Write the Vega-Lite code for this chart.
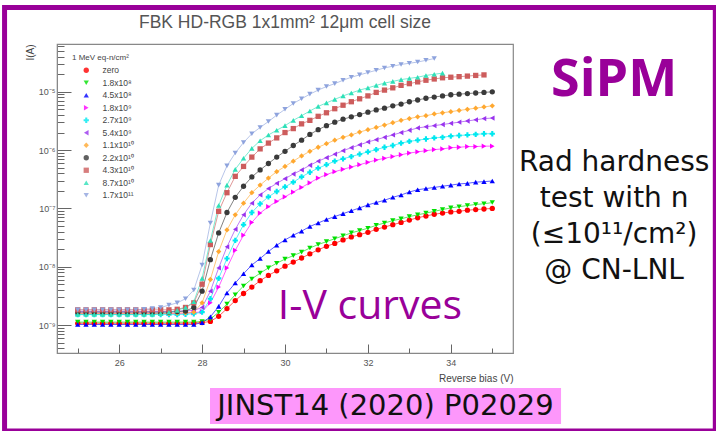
{
  "$schema": "https://vega.github.io/schema/vega-lite/v6.json",
  "width": 456,
  "height": 309,
  "autosize": {"type": "none"},
  "padding": {"left": 57, "top": 44, "right": 203, "bottom": 78},
  "background": "white",
  "config": {
    "view": {"stroke": "#888888", "strokeWidth": 1.2},
    "axis": {"grid": false, "domainColor": "#888888", "tickColor": "#666666", "labelFont": "Liberation Sans", "labelFontSize": 9, "labelColor": "#555555", "titleFont": "Liberation Sans", "titleFontWeight": "normal", "titleColor": "#444444", "titleFontSize": 10, "labelOverlap": false, "labelFlush": false}
  },
  "data": {"values": [
{"series":"zero","V":25,"I":1.07e-9},{"series":"zero","V":25.2,"I":1.07e-9},{"series":"zero","V":25.4,"I":1.07e-9},{"series":"zero","V":25.6,"I":1.07e-9},{"series":"zero","V":25.8,"I":1.07e-9},{"series":"zero","V":26,"I":1.07e-9},{"series":"zero","V":26.2,"I":1.07e-9},{"series":"zero","V":26.4,"I":1.07e-9},{"series":"zero","V":26.6,"I":1.07e-9},{"series":"zero","V":26.8,"I":1.07e-9},{"series":"zero","V":27,"I":1.07e-9},{"series":"zero","V":27.2,"I":1.07e-9},{"series":"zero","V":27.4,"I":1.07e-9},{"series":"zero","V":27.6,"I":1.07e-9},{"series":"zero","V":27.8,"I":1.08e-9},{"series":"zero","V":28,"I":1.10e-9},{"series":"zero","V":28.2,"I":1.15e-9},{"series":"zero","V":28.4,"I":1.41e-9},{"series":"zero","V":28.6,"I":1.91e-9},{"series":"zero","V":28.8,"I":2.63e-9},{"series":"zero","V":29,"I":3.47e-9},{"series":"zero","V":29.2,"I":4.47e-9},{"series":"zero","V":29.4,"I":5.75e-9},{"series":"zero","V":29.6,"I":7.08e-9},{"series":"zero","V":29.8,"I":8.51e-9},{"series":"zero","V":30,"I":1.02e-8},{"series":"zero","V":30.2,"I":1.20e-8},{"series":"zero","V":30.4,"I":1.41e-8},{"series":"zero","V":30.6,"I":1.66e-8},{"series":"zero","V":30.8,"I":1.95e-8},{"series":"zero","V":31,"I":2.24e-8},{"series":"zero","V":31.2,"I":2.51e-8},{"series":"zero","V":31.4,"I":2.88e-8},{"series":"zero","V":31.6,"I":3.24e-8},{"series":"zero","V":31.8,"I":3.55e-8},{"series":"zero","V":32,"I":3.89e-8},{"series":"zero","V":32.2,"I":4.37e-8},{"series":"zero","V":32.4,"I":4.79e-8},{"series":"zero","V":32.6,"I":5.25e-8},{"series":"zero","V":32.8,"I":5.75e-8},{"series":"zero","V":33,"I":6.31e-8},{"series":"zero","V":33.2,"I":6.92e-8},{"series":"zero","V":33.4,"I":7.41e-8},{"series":"zero","V":33.6,"I":7.94e-8},{"series":"zero","V":33.8,"I":8.32e-8},{"series":"zero","V":34,"I":8.71e-8},{"series":"zero","V":34.2,"I":8.91e-8},{"series":"zero","V":34.4,"I":9.33e-8},{"series":"zero","V":34.6,"I":9.55e-8},{"series":"zero","V":34.8,"I":9.77e-8},{"series":"zero","V":35,"I":1.00e-7},
{"series":"1.8x10⁸","V":25,"I":1.12e-9},{"series":"1.8x10⁸","V":25.2,"I":1.12e-9},{"series":"1.8x10⁸","V":25.4,"I":1.12e-9},{"series":"1.8x10⁸","V":25.6,"I":1.12e-9},{"series":"1.8x10⁸","V":25.8,"I":1.12e-9},{"series":"1.8x10⁸","V":26,"I":1.12e-9},{"series":"1.8x10⁸","V":26.2,"I":1.12e-9},{"series":"1.8x10⁸","V":26.4,"I":1.12e-9},{"series":"1.8x10⁸","V":26.6,"I":1.12e-9},{"series":"1.8x10⁸","V":26.8,"I":1.12e-9},{"series":"1.8x10⁸","V":27,"I":1.12e-9},{"series":"1.8x10⁸","V":27.2,"I":1.12e-9},{"series":"1.8x10⁸","V":27.4,"I":1.12e-9},{"series":"1.8x10⁸","V":27.6,"I":1.12e-9},{"series":"1.8x10⁸","V":27.8,"I":1.12e-9},{"series":"1.8x10⁸","V":28,"I":1.15e-9},{"series":"1.8x10⁸","V":28.2,"I":1.26e-9},{"series":"1.8x10⁸","V":28.4,"I":1.66e-9},{"series":"1.8x10⁸","V":28.6,"I":2.29e-9},{"series":"1.8x10⁸","V":28.8,"I":3.31e-9},{"series":"1.8x10⁸","V":29,"I":4.68e-9},{"series":"1.8x10⁸","V":29.2,"I":6.17e-9},{"series":"1.8x10⁸","V":29.4,"I":7.76e-9},{"series":"1.8x10⁸","V":29.6,"I":9.55e-9},{"series":"1.8x10⁸","V":29.8,"I":1.15e-8},{"series":"1.8x10⁸","V":30,"I":1.35e-8},{"series":"1.8x10⁸","V":30.2,"I":1.55e-8},{"series":"1.8x10⁸","V":30.4,"I":1.78e-8},{"series":"1.8x10⁸","V":30.6,"I":2.09e-8},{"series":"1.8x10⁸","V":30.8,"I":2.40e-8},{"series":"1.8x10⁸","V":31,"I":2.69e-8},{"series":"1.8x10⁸","V":31.2,"I":3.02e-8},{"series":"1.8x10⁸","V":31.4,"I":3.39e-8},{"series":"1.8x10⁸","V":31.6,"I":3.80e-8},{"series":"1.8x10⁸","V":31.8,"I":4.17e-8},{"series":"1.8x10⁸","V":32,"I":4.57e-8},{"series":"1.8x10⁸","V":32.2,"I":5.13e-8},{"series":"1.8x10⁸","V":32.4,"I":5.62e-8},{"series":"1.8x10⁸","V":32.6,"I":6.17e-8},{"series":"1.8x10⁸","V":32.8,"I":6.61e-8},{"series":"1.8x10⁸","V":33,"I":7.24e-8},{"series":"1.8x10⁸","V":33.2,"I":7.76e-8},{"series":"1.8x10⁸","V":33.4,"I":8.32e-8},{"series":"1.8x10⁸","V":33.6,"I":8.91e-8},{"series":"1.8x10⁸","V":33.8,"I":9.55e-8},{"series":"1.8x10⁸","V":34,"I":1.02e-7},{"series":"1.8x10⁸","V":34.2,"I":1.07e-7},{"series":"1.8x10⁸","V":34.4,"I":1.12e-7},{"series":"1.8x10⁸","V":34.6,"I":1.17e-7},{"series":"1.8x10⁸","V":34.8,"I":1.20e-7},{"series":"1.8x10⁸","V":35,"I":1.26e-7},
{"series":"4.5x10⁸","V":25,"I":1.02e-9},{"series":"4.5x10⁸","V":25.2,"I":1.02e-9},{"series":"4.5x10⁸","V":25.4,"I":1.02e-9},{"series":"4.5x10⁸","V":25.6,"I":1.02e-9},{"series":"4.5x10⁸","V":25.8,"I":1.02e-9},{"series":"4.5x10⁸","V":26,"I":1.02e-9},{"series":"4.5x10⁸","V":26.2,"I":1.02e-9},{"series":"4.5x10⁸","V":26.4,"I":1.02e-9},{"series":"4.5x10⁸","V":26.6,"I":1.02e-9},{"series":"4.5x10⁸","V":26.8,"I":1.02e-9},{"series":"4.5x10⁸","V":27,"I":1.02e-9},{"series":"4.5x10⁸","V":27.2,"I":1.02e-9},{"series":"4.5x10⁸","V":27.4,"I":1.02e-9},{"series":"4.5x10⁸","V":27.6,"I":1.02e-9},{"series":"4.5x10⁸","V":27.8,"I":1.02e-9},{"series":"4.5x10⁸","V":28,"I":1.10e-9},{"series":"4.5x10⁸","V":28.2,"I":1.38e-9},{"series":"4.5x10⁸","V":28.4,"I":2.09e-9},{"series":"4.5x10⁸","V":28.6,"I":3.55e-9},{"series":"4.5x10⁸","V":28.8,"I":5.25e-9},{"series":"4.5x10⁸","V":29,"I":7.59e-9},{"series":"4.5x10⁸","V":29.2,"I":1.07e-8},{"series":"4.5x10⁸","V":29.4,"I":1.38e-8},{"series":"4.5x10⁸","V":29.6,"I":1.82e-8},{"series":"4.5x10⁸","V":29.8,"I":2.34e-8},{"series":"4.5x10⁸","V":30,"I":2.88e-8},{"series":"4.5x10⁸","V":30.2,"I":3.47e-8},{"series":"4.5x10⁸","V":30.4,"I":4.07e-8},{"series":"4.5x10⁸","V":30.6,"I":4.90e-8},{"series":"4.5x10⁸","V":30.8,"I":5.62e-8},{"series":"4.5x10⁸","V":31,"I":6.46e-8},{"series":"4.5x10⁸","V":31.2,"I":7.24e-8},{"series":"4.5x10⁸","V":31.4,"I":8.13e-8},{"series":"4.5x10⁸","V":31.6,"I":9.12e-8},{"series":"4.5x10⁸","V":31.8,"I":1.02e-7},{"series":"4.5x10⁸","V":32,"I":1.15e-7},{"series":"4.5x10⁸","V":32.2,"I":1.26e-7},{"series":"4.5x10⁸","V":32.4,"I":1.38e-7},{"series":"4.5x10⁸","V":32.6,"I":1.55e-7},{"series":"4.5x10⁸","V":32.8,"I":1.70e-7},{"series":"4.5x10⁸","V":33,"I":1.91e-7},{"series":"4.5x10⁸","V":33.2,"I":2.09e-7},{"series":"4.5x10⁸","V":33.4,"I":2.19e-7},{"series":"4.5x10⁸","V":33.6,"I":2.29e-7},{"series":"4.5x10⁸","V":33.8,"I":2.40e-7},{"series":"4.5x10⁸","V":34,"I":2.51e-7},{"series":"4.5x10⁸","V":34.2,"I":2.63e-7},{"series":"4.5x10⁸","V":34.4,"I":2.69e-7},{"series":"4.5x10⁸","V":34.6,"I":2.82e-7},{"series":"4.5x10⁸","V":34.8,"I":2.88e-7},{"series":"4.5x10⁸","V":35,"I":2.95e-7},
{"series":"1.8x10⁹","V":25,"I":1.58e-9},{"series":"1.8x10⁹","V":25.2,"I":1.58e-9},{"series":"1.8x10⁹","V":25.4,"I":1.58e-9},{"series":"1.8x10⁹","V":25.6,"I":1.58e-9},{"series":"1.8x10⁹","V":25.8,"I":1.58e-9},{"series":"1.8x10⁹","V":26,"I":1.58e-9},{"series":"1.8x10⁹","V":26.2,"I":1.58e-9},{"series":"1.8x10⁹","V":26.4,"I":1.58e-9},{"series":"1.8x10⁹","V":26.6,"I":1.58e-9},{"series":"1.8x10⁹","V":26.8,"I":1.58e-9},{"series":"1.8x10⁹","V":27,"I":1.58e-9},{"series":"1.8x10⁹","V":27.2,"I":1.58e-9},{"series":"1.8x10⁹","V":27.4,"I":1.58e-9},{"series":"1.8x10⁹","V":27.6,"I":1.60e-9},{"series":"1.8x10⁹","V":27.8,"I":1.62e-9},{"series":"1.8x10⁹","V":28,"I":1.70e-9},{"series":"1.8x10⁹","V":28.2,"I":2.40e-9},{"series":"1.8x10⁹","V":28.4,"I":4.47e-9},{"series":"1.8x10⁹","V":28.6,"I":9.55e-9},{"series":"1.8x10⁹","V":28.8,"I":1.91e-8},{"series":"1.8x10⁹","V":29,"I":3.47e-8},{"series":"1.8x10⁹","V":29.2,"I":5.75e-8},{"series":"1.8x10⁹","V":29.4,"I":8.32e-8},{"series":"1.8x10⁹","V":29.6,"I":1.07e-7},{"series":"1.8x10⁹","V":29.8,"I":1.32e-7},{"series":"1.8x10⁹","V":30,"I":1.58e-7},{"series":"1.8x10⁹","V":30.2,"I":1.91e-7},{"series":"1.8x10⁹","V":30.4,"I":2.29e-7},{"series":"1.8x10⁹","V":30.6,"I":2.75e-7},{"series":"1.8x10⁹","V":30.8,"I":3.31e-7},{"series":"1.8x10⁹","V":31,"I":3.80e-7},{"series":"1.8x10⁹","V":31.2,"I":4.27e-7},{"series":"1.8x10⁹","V":31.4,"I":4.68e-7},{"series":"1.8x10⁹","V":31.6,"I":5.13e-7},{"series":"1.8x10⁹","V":31.8,"I":5.62e-7},{"series":"1.8x10⁹","V":32,"I":6.17e-7},{"series":"1.8x10⁹","V":32.2,"I":6.76e-7},{"series":"1.8x10⁹","V":32.4,"I":7.24e-7},{"series":"1.8x10⁹","V":32.6,"I":7.76e-7},{"series":"1.8x10⁹","V":32.8,"I":8.32e-7},{"series":"1.8x10⁹","V":33,"I":8.91e-7},{"series":"1.8x10⁹","V":33.2,"I":9.33e-7},{"series":"1.8x10⁹","V":33.4,"I":9.77e-7},{"series":"1.8x10⁹","V":33.6,"I":1.02e-6},{"series":"1.8x10⁹","V":33.8,"I":1.05e-6},{"series":"1.8x10⁹","V":34,"I":1.10e-6},{"series":"1.8x10⁹","V":34.2,"I":1.12e-6},{"series":"1.8x10⁹","V":34.4,"I":1.15e-6},{"series":"1.8x10⁹","V":34.6,"I":1.15e-6},{"series":"1.8x10⁹","V":34.8,"I":1.17e-6},{"series":"1.8x10⁹","V":35,"I":1.17e-6},
{"series":"2.7x10⁹","V":25,"I":1.51e-9},{"series":"2.7x10⁹","V":25.2,"I":1.51e-9},{"series":"2.7x10⁹","V":25.4,"I":1.51e-9},{"series":"2.7x10⁹","V":25.6,"I":1.51e-9},{"series":"2.7x10⁹","V":25.8,"I":1.51e-9},{"series":"2.7x10⁹","V":26,"I":1.51e-9},{"series":"2.7x10⁹","V":26.2,"I":1.51e-9},{"series":"2.7x10⁹","V":26.4,"I":1.51e-9},{"series":"2.7x10⁹","V":26.6,"I":1.51e-9},{"series":"2.7x10⁹","V":26.8,"I":1.51e-9},{"series":"2.7x10⁹","V":27,"I":1.51e-9},{"series":"2.7x10⁹","V":27.2,"I":1.51e-9},{"series":"2.7x10⁹","V":27.4,"I":1.51e-9},{"series":"2.7x10⁹","V":27.6,"I":1.53e-9},{"series":"2.7x10⁹","V":27.8,"I":1.56e-9},{"series":"2.7x10⁹","V":28,"I":1.66e-9},{"series":"2.7x10⁹","V":28.2,"I":2.82e-9},{"series":"2.7x10⁹","V":28.4,"I":6.31e-9},{"series":"2.7x10⁹","V":28.6,"I":1.38e-8},{"series":"2.7x10⁹","V":28.8,"I":2.82e-8},{"series":"2.7x10⁹","V":29,"I":5.25e-8},{"series":"2.7x10⁹","V":29.2,"I":8.51e-8},{"series":"2.7x10⁹","V":29.4,"I":1.20e-7},{"series":"2.7x10⁹","V":29.6,"I":1.58e-7},{"series":"2.7x10⁹","V":29.8,"I":1.95e-7},{"series":"2.7x10⁹","V":30,"I":2.34e-7},{"series":"2.7x10⁹","V":30.2,"I":2.82e-7},{"series":"2.7x10⁹","V":30.4,"I":3.47e-7},{"series":"2.7x10⁹","V":30.6,"I":4.17e-7},{"series":"2.7x10⁹","V":30.8,"I":4.90e-7},{"series":"2.7x10⁹","V":31,"I":5.62e-7},{"series":"2.7x10⁹","V":31.2,"I":6.46e-7},{"series":"2.7x10⁹","V":31.4,"I":7.08e-7},{"series":"2.7x10⁹","V":31.6,"I":7.76e-7},{"series":"2.7x10⁹","V":31.8,"I":8.51e-7},{"series":"2.7x10⁹","V":32,"I":9.33e-7},{"series":"2.7x10⁹","V":32.2,"I":1.02e-6},{"series":"2.7x10⁹","V":32.4,"I":1.12e-6},{"series":"2.7x10⁹","V":32.6,"I":1.20e-6},{"series":"2.7x10⁹","V":32.8,"I":1.32e-6},{"series":"2.7x10⁹","V":33,"I":1.41e-6},{"series":"2.7x10⁹","V":33.2,"I":1.48e-6},{"series":"2.7x10⁹","V":33.4,"I":1.55e-6},{"series":"2.7x10⁹","V":33.6,"I":1.62e-6},{"series":"2.7x10⁹","V":33.8,"I":1.66e-6},{"series":"2.7x10⁹","V":34,"I":1.74e-6},{"series":"2.7x10⁹","V":34.2,"I":1.78e-6},{"series":"2.7x10⁹","V":34.4,"I":1.82e-6},{"series":"2.7x10⁹","V":34.6,"I":1.86e-6},{"series":"2.7x10⁹","V":34.8,"I":1.91e-6},{"series":"2.7x10⁹","V":35,"I":1.91e-6},
{"series":"5.4x10⁹","V":25,"I":1.70e-9},{"series":"5.4x10⁹","V":25.2,"I":1.70e-9},{"series":"5.4x10⁹","V":25.4,"I":1.70e-9},{"series":"5.4x10⁹","V":25.6,"I":1.70e-9},{"series":"5.4x10⁹","V":25.8,"I":1.70e-9},{"series":"5.4x10⁹","V":26,"I":1.70e-9},{"series":"5.4x10⁹","V":26.2,"I":1.70e-9},{"series":"5.4x10⁹","V":26.4,"I":1.70e-9},{"series":"5.4x10⁹","V":26.6,"I":1.70e-9},{"series":"5.4x10⁹","V":26.8,"I":1.70e-9},{"series":"5.4x10⁹","V":27,"I":1.70e-9},{"series":"5.4x10⁹","V":27.2,"I":1.70e-9},{"series":"5.4x10⁹","V":27.4,"I":1.72e-9},{"series":"5.4x10⁹","V":27.6,"I":1.74e-9},{"series":"5.4x10⁹","V":27.8,"I":1.78e-9},{"series":"5.4x10⁹","V":28,"I":2.00e-9},{"series":"5.4x10⁹","V":28.2,"I":3.80e-9},{"series":"5.4x10⁹","V":28.4,"I":9.55e-9},{"series":"5.4x10⁹","V":28.6,"I":2.19e-8},{"series":"5.4x10⁹","V":28.8,"I":4.37e-8},{"series":"5.4x10⁹","V":29,"I":7.76e-8},{"series":"5.4x10⁹","V":29.2,"I":1.23e-7},{"series":"5.4x10⁹","V":29.4,"I":1.70e-7},{"series":"5.4x10⁹","V":29.6,"I":2.19e-7},{"series":"5.4x10⁹","V":29.8,"I":2.69e-7},{"series":"5.4x10⁹","V":30,"I":3.24e-7},{"series":"5.4x10⁹","V":30.2,"I":3.89e-7},{"series":"5.4x10⁹","V":30.4,"I":4.57e-7},{"series":"5.4x10⁹","V":30.6,"I":5.50e-7},{"series":"5.4x10⁹","V":30.8,"I":6.46e-7},{"series":"5.4x10⁹","V":31,"I":7.41e-7},{"series":"5.4x10⁹","V":31.2,"I":8.51e-7},{"series":"5.4x10⁹","V":31.4,"I":9.77e-7},{"series":"5.4x10⁹","V":31.6,"I":1.10e-6},{"series":"5.4x10⁹","V":31.8,"I":1.23e-6},{"series":"5.4x10⁹","V":32,"I":1.38e-6},{"series":"5.4x10⁹","V":32.2,"I":1.51e-6},{"series":"5.4x10⁹","V":32.4,"I":1.66e-6},{"series":"5.4x10⁹","V":32.6,"I":1.82e-6},{"series":"5.4x10⁹","V":32.8,"I":2.00e-6},{"series":"5.4x10⁹","V":33,"I":2.19e-6},{"series":"5.4x10⁹","V":33.2,"I":2.40e-6},{"series":"5.4x10⁹","V":33.4,"I":2.51e-6},{"series":"5.4x10⁹","V":33.6,"I":2.63e-6},{"series":"5.4x10⁹","V":33.8,"I":2.75e-6},{"series":"5.4x10⁹","V":34,"I":2.88e-6},{"series":"5.4x10⁹","V":34.2,"I":3.02e-6},{"series":"5.4x10⁹","V":34.4,"I":3.16e-6},{"series":"5.4x10⁹","V":34.6,"I":3.31e-6},{"series":"5.4x10⁹","V":34.8,"I":3.47e-6},{"series":"5.4x10⁹","V":35,"I":3.55e-6},
{"series":"1.1x10¹⁰","V":25,"I":1.58e-9},{"series":"1.1x10¹⁰","V":25.2,"I":1.58e-9},{"series":"1.1x10¹⁰","V":25.4,"I":1.58e-9},{"series":"1.1x10¹⁰","V":25.6,"I":1.58e-9},{"series":"1.1x10¹⁰","V":25.8,"I":1.58e-9},{"series":"1.1x10¹⁰","V":26,"I":1.58e-9},{"series":"1.1x10¹⁰","V":26.2,"I":1.58e-9},{"series":"1.1x10¹⁰","V":26.4,"I":1.58e-9},{"series":"1.1x10¹⁰","V":26.6,"I":1.58e-9},{"series":"1.1x10¹⁰","V":26.8,"I":1.58e-9},{"series":"1.1x10¹⁰","V":27,"I":1.58e-9},{"series":"1.1x10¹⁰","V":27.2,"I":1.58e-9},{"series":"1.1x10¹⁰","V":27.4,"I":1.60e-9},{"series":"1.1x10¹⁰","V":27.6,"I":1.62e-9},{"series":"1.1x10¹⁰","V":27.8,"I":1.66e-9},{"series":"1.1x10¹⁰","V":28,"I":2.40e-9},{"series":"1.1x10¹⁰","V":28.2,"I":6.03e-9},{"series":"1.1x10¹⁰","V":28.4,"I":1.82e-8},{"series":"1.1x10¹⁰","V":28.6,"I":4.27e-8},{"series":"1.1x10¹⁰","V":28.8,"I":7.76e-8},{"series":"1.1x10¹⁰","V":29,"I":1.23e-7},{"series":"1.1x10¹⁰","V":29.2,"I":1.86e-7},{"series":"1.1x10¹⁰","V":29.4,"I":2.51e-7},{"series":"1.1x10¹⁰","V":29.6,"I":3.31e-7},{"series":"1.1x10¹⁰","V":29.8,"I":4.27e-7},{"series":"1.1x10¹⁰","V":30,"I":5.25e-7},{"series":"1.1x10¹⁰","V":30.2,"I":6.46e-7},{"series":"1.1x10¹⁰","V":30.4,"I":7.94e-7},{"series":"1.1x10¹⁰","V":30.6,"I":9.55e-7},{"series":"1.1x10¹⁰","V":30.8,"I":1.12e-6},{"series":"1.1x10¹⁰","V":31,"I":1.29e-6},{"series":"1.1x10¹⁰","V":31.2,"I":1.48e-6},{"series":"1.1x10¹⁰","V":31.4,"I":1.66e-6},{"series":"1.1x10¹⁰","V":31.6,"I":1.82e-6},{"series":"1.1x10¹⁰","V":31.8,"I":2.04e-6},{"series":"1.1x10¹⁰","V":32,"I":2.24e-6},{"series":"1.1x10¹⁰","V":32.2,"I":2.45e-6},{"series":"1.1x10¹⁰","V":32.4,"I":2.69e-6},{"series":"1.1x10¹⁰","V":32.6,"I":2.95e-6},{"series":"1.1x10¹⁰","V":32.8,"I":3.24e-6},{"series":"1.1x10¹⁰","V":33,"I":3.47e-6},{"series":"1.1x10¹⁰","V":33.2,"I":3.72e-6},{"series":"1.1x10¹⁰","V":33.4,"I":3.89e-6},{"series":"1.1x10¹⁰","V":33.6,"I":4.17e-6},{"series":"1.1x10¹⁰","V":33.8,"I":4.37e-6},{"series":"1.1x10¹⁰","V":34,"I":4.57e-6},{"series":"1.1x10¹⁰","V":34.2,"I":4.79e-6},{"series":"1.1x10¹⁰","V":34.4,"I":5.01e-6},{"series":"1.1x10¹⁰","V":34.6,"I":5.25e-6},{"series":"1.1x10¹⁰","V":34.8,"I":5.50e-6},{"series":"1.1x10¹⁰","V":35,"I":5.75e-6},
{"series":"2.2x10¹⁰","V":25,"I":1.66e-9},{"series":"2.2x10¹⁰","V":25.2,"I":1.66e-9},{"series":"2.2x10¹⁰","V":25.4,"I":1.66e-9},{"series":"2.2x10¹⁰","V":25.6,"I":1.66e-9},{"series":"2.2x10¹⁰","V":25.8,"I":1.66e-9},{"series":"2.2x10¹⁰","V":26,"I":1.66e-9},{"series":"2.2x10¹⁰","V":26.2,"I":1.66e-9},{"series":"2.2x10¹⁰","V":26.4,"I":1.66e-9},{"series":"2.2x10¹⁰","V":26.6,"I":1.66e-9},{"series":"2.2x10¹⁰","V":26.8,"I":1.66e-9},{"series":"2.2x10¹⁰","V":27,"I":1.66e-9},{"series":"2.2x10¹⁰","V":27.2,"I":1.66e-9},{"series":"2.2x10¹⁰","V":27.4,"I":1.70e-9},{"series":"2.2x10¹⁰","V":27.6,"I":1.74e-9},{"series":"2.2x10¹⁰","V":27.8,"I":2.00e-9},{"series":"2.2x10¹⁰","V":28,"I":3.80e-9},{"series":"2.2x10¹⁰","V":28.2,"I":1.32e-8},{"series":"2.2x10¹⁰","V":28.4,"I":3.80e-8},{"series":"2.2x10¹⁰","V":28.6,"I":8.51e-8},{"series":"2.2x10¹⁰","V":28.8,"I":1.55e-7},{"series":"2.2x10¹⁰","V":29,"I":2.40e-7},{"series":"2.2x10¹⁰","V":29.2,"I":3.47e-7},{"series":"2.2x10¹⁰","V":29.4,"I":4.57e-7},{"series":"2.2x10¹⁰","V":29.6,"I":5.89e-7},{"series":"2.2x10¹⁰","V":29.8,"I":7.59e-7},{"series":"2.2x10¹⁰","V":30,"I":9.55e-7},{"series":"2.2x10¹⁰","V":30.2,"I":1.20e-6},{"series":"2.2x10¹⁰","V":30.4,"I":1.48e-6},{"series":"2.2x10¹⁰","V":30.6,"I":1.86e-6},{"series":"2.2x10¹⁰","V":30.8,"I":2.24e-6},{"series":"2.2x10¹⁰","V":31,"I":2.63e-6},{"series":"2.2x10¹⁰","V":31.2,"I":3.02e-6},{"series":"2.2x10¹⁰","V":31.4,"I":3.39e-6},{"series":"2.2x10¹⁰","V":31.6,"I":3.72e-6},{"series":"2.2x10¹⁰","V":31.8,"I":4.07e-6},{"series":"2.2x10¹⁰","V":32,"I":4.47e-6},{"series":"2.2x10¹⁰","V":32.2,"I":4.90e-6},{"series":"2.2x10¹⁰","V":32.4,"I":5.25e-6},{"series":"2.2x10¹⁰","V":32.6,"I":5.75e-6},{"series":"2.2x10¹⁰","V":32.8,"I":6.17e-6},{"series":"2.2x10¹⁰","V":33,"I":6.76e-6},{"series":"2.2x10¹⁰","V":33.2,"I":7.24e-6},{"series":"2.2x10¹⁰","V":33.4,"I":7.76e-6},{"series":"2.2x10¹⁰","V":33.6,"I":8.13e-6},{"series":"2.2x10¹⁰","V":33.8,"I":8.51e-6},{"series":"2.2x10¹⁰","V":34,"I":8.91e-6},{"series":"2.2x10¹⁰","V":34.2,"I":9.12e-6},{"series":"2.2x10¹⁰","V":34.4,"I":9.33e-6},{"series":"2.2x10¹⁰","V":34.6,"I":9.55e-6},{"series":"2.2x10¹⁰","V":34.8,"I":9.77e-6},{"series":"2.2x10¹⁰","V":35,"I":1.00e-5},
{"series":"4.3x10¹⁰","V":25,"I":1.82e-9},{"series":"4.3x10¹⁰","V":25.2,"I":1.82e-9},{"series":"4.3x10¹⁰","V":25.4,"I":1.82e-9},{"series":"4.3x10¹⁰","V":25.6,"I":1.82e-9},{"series":"4.3x10¹⁰","V":25.8,"I":1.82e-9},{"series":"4.3x10¹⁰","V":26,"I":1.82e-9},{"series":"4.3x10¹⁰","V":26.2,"I":1.82e-9},{"series":"4.3x10¹⁰","V":26.4,"I":1.82e-9},{"series":"4.3x10¹⁰","V":26.6,"I":1.82e-9},{"series":"4.3x10¹⁰","V":26.8,"I":1.82e-9},{"series":"4.3x10¹⁰","V":27,"I":1.82e-9},{"series":"4.3x10¹⁰","V":27.2,"I":1.82e-9},{"series":"4.3x10¹⁰","V":27.4,"I":1.86e-9},{"series":"4.3x10¹⁰","V":27.6,"I":2.00e-9},{"series":"4.3x10¹⁰","V":27.8,"I":2.40e-9},{"series":"4.3x10¹⁰","V":28,"I":5.01e-9},{"series":"4.3x10¹⁰","V":28.2,"I":2.40e-8},{"series":"4.3x10¹⁰","V":28.4,"I":8.91e-8},{"series":"4.3x10¹⁰","V":28.6,"I":1.86e-7},{"series":"4.3x10¹⁰","V":28.8,"I":3.55e-7},{"series":"4.3x10¹⁰","V":29,"I":5.25e-7},{"series":"4.3x10¹⁰","V":29.2,"I":7.59e-7},{"series":"4.3x10¹⁰","V":29.4,"I":1.05e-6},{"series":"4.3x10¹⁰","V":29.6,"I":1.32e-6},{"series":"4.3x10¹⁰","V":29.8,"I":1.62e-6},{"series":"4.3x10¹⁰","V":30,"I":2.00e-6},{"series":"4.3x10¹⁰","V":30.2,"I":2.34e-6},{"series":"4.3x10¹⁰","V":30.4,"I":2.82e-6},{"series":"4.3x10¹⁰","V":30.6,"I":3.24e-6},{"series":"4.3x10¹⁰","V":30.8,"I":3.80e-6},{"series":"4.3x10¹⁰","V":31,"I":4.37e-6},{"series":"4.3x10¹⁰","V":31.2,"I":5.13e-6},{"series":"4.3x10¹⁰","V":31.4,"I":5.89e-6},{"series":"4.3x10¹⁰","V":31.6,"I":6.76e-6},{"series":"4.3x10¹⁰","V":31.8,"I":7.59e-6},{"series":"4.3x10¹⁰","V":32,"I":8.51e-6},{"series":"4.3x10¹⁰","V":32.2,"I":9.77e-6},{"series":"4.3x10¹⁰","V":32.4,"I":1.07e-5},{"series":"4.3x10¹⁰","V":32.6,"I":1.17e-5},{"series":"4.3x10¹⁰","V":32.8,"I":1.29e-5},{"series":"4.3x10¹⁰","V":33,"I":1.38e-5},{"series":"4.3x10¹⁰","V":33.2,"I":1.48e-5},{"series":"4.3x10¹⁰","V":33.4,"I":1.58e-5},{"series":"4.3x10¹⁰","V":33.6,"I":1.66e-5},{"series":"4.3x10¹⁰","V":33.8,"I":1.74e-5},{"series":"4.3x10¹⁰","V":34,"I":1.78e-5},{"series":"4.3x10¹⁰","V":34.2,"I":1.82e-5},{"series":"4.3x10¹⁰","V":34.4,"I":1.86e-5},{"series":"4.3x10¹⁰","V":34.6,"I":1.91e-5},{"series":"4.3x10¹⁰","V":34.8,"I":1.95e-5},
{"series":"8.7x10¹⁰","V":25,"I":1.51e-9},{"series":"8.7x10¹⁰","V":25.2,"I":1.51e-9},{"series":"8.7x10¹⁰","V":25.4,"I":1.51e-9},{"series":"8.7x10¹⁰","V":25.6,"I":1.51e-9},{"series":"8.7x10¹⁰","V":25.8,"I":1.51e-9},{"series":"8.7x10¹⁰","V":26,"I":1.51e-9},{"series":"8.7x10¹⁰","V":26.2,"I":1.51e-9},{"series":"8.7x10¹⁰","V":26.4,"I":1.51e-9},{"series":"8.7x10¹⁰","V":26.6,"I":1.51e-9},{"series":"8.7x10¹⁰","V":26.8,"I":1.51e-9},{"series":"8.7x10¹⁰","V":27,"I":1.58e-9},{"series":"8.7x10¹⁰","V":27.2,"I":1.66e-9},{"series":"8.7x10¹⁰","V":27.4,"I":1.78e-9},{"series":"8.7x10¹⁰","V":27.6,"I":2.00e-9},{"series":"8.7x10¹⁰","V":27.8,"I":2.51e-9},{"series":"8.7x10¹⁰","V":28,"I":6.31e-9},{"series":"8.7x10¹⁰","V":28.2,"I":2.82e-8},{"series":"8.7x10¹⁰","V":28.4,"I":1.12e-7},{"series":"8.7x10¹⁰","V":28.6,"I":2.51e-7},{"series":"8.7x10¹⁰","V":28.8,"I":4.68e-7},{"series":"8.7x10¹⁰","V":29,"I":7.24e-7},{"series":"8.7x10¹⁰","V":29.2,"I":1.07e-6},{"series":"8.7x10¹⁰","V":29.4,"I":1.45e-6},{"series":"8.7x10¹⁰","V":29.6,"I":1.82e-6},{"series":"8.7x10¹⁰","V":29.8,"I":2.19e-6},{"series":"8.7x10¹⁰","V":30,"I":2.63e-6},{"series":"8.7x10¹⁰","V":30.2,"I":3.24e-6},{"series":"8.7x10¹⁰","V":30.4,"I":3.89e-6},{"series":"8.7x10¹⁰","V":30.6,"I":4.68e-6},{"series":"8.7x10¹⁰","V":30.8,"I":5.62e-6},{"series":"8.7x10¹⁰","V":31,"I":6.46e-6},{"series":"8.7x10¹⁰","V":31.2,"I":7.41e-6},{"series":"8.7x10¹⁰","V":31.4,"I":8.51e-6},{"series":"8.7x10¹⁰","V":31.6,"I":9.55e-6},{"series":"8.7x10¹⁰","V":31.8,"I":1.07e-5},{"series":"8.7x10¹⁰","V":32,"I":1.17e-5},{"series":"8.7x10¹⁰","V":32.2,"I":1.29e-5},{"series":"8.7x10¹⁰","V":32.4,"I":1.41e-5},{"series":"8.7x10¹⁰","V":32.6,"I":1.51e-5},{"series":"8.7x10¹⁰","V":32.8,"I":1.62e-5},{"series":"8.7x10¹⁰","V":33,"I":1.70e-5},{"series":"8.7x10¹⁰","V":33.2,"I":1.78e-5},{"series":"8.7x10¹⁰","V":33.4,"I":1.91e-5},{"series":"8.7x10¹⁰","V":33.6,"I":2.00e-5},{"series":"8.7x10¹⁰","V":33.8,"I":2.09e-5},
{"series":"1.7x10¹¹","V":25,"I":1.82e-9},{"series":"1.7x10¹¹","V":25.2,"I":1.82e-9},{"series":"1.7x10¹¹","V":25.4,"I":1.82e-9},{"series":"1.7x10¹¹","V":25.6,"I":1.82e-9},{"series":"1.7x10¹¹","V":25.8,"I":1.82e-9},{"series":"1.7x10¹¹","V":26,"I":1.82e-9},{"series":"1.7x10¹¹","V":26.2,"I":1.82e-9},{"series":"1.7x10¹¹","V":26.4,"I":1.82e-9},{"series":"1.7x10¹¹","V":26.6,"I":1.86e-9},{"series":"1.7x10¹¹","V":26.8,"I":1.91e-9},{"series":"1.7x10¹¹","V":27,"I":2.00e-9},{"series":"1.7x10¹¹","V":27.2,"I":2.19e-9},{"series":"1.7x10¹¹","V":27.4,"I":2.40e-9},{"series":"1.7x10¹¹","V":27.6,"I":2.82e-9},{"series":"1.7x10¹¹","V":27.8,"I":3.98e-9},{"series":"1.7x10¹¹","V":28,"I":1.07e-8},{"series":"1.7x10¹¹","V":28.2,"I":5.62e-8},{"series":"1.7x10¹¹","V":28.4,"I":2.51e-7},{"series":"1.7x10¹¹","V":28.6,"I":5.37e-7},{"series":"1.7x10¹¹","V":28.8,"I":8.91e-7},{"series":"1.7x10¹¹","V":29,"I":1.35e-6},{"series":"1.7x10¹¹","V":29.2,"I":1.91e-6},{"series":"1.7x10¹¹","V":29.4,"I":2.45e-6},{"series":"1.7x10¹¹","V":29.6,"I":3.09e-6},{"series":"1.7x10¹¹","V":29.8,"I":3.98e-6},{"series":"1.7x10¹¹","V":30,"I":5.01e-6},{"series":"1.7x10¹¹","V":30.2,"I":6.31e-6},{"series":"1.7x10¹¹","V":30.4,"I":7.59e-6},{"series":"1.7x10¹¹","V":30.6,"I":9.12e-6},{"series":"1.7x10¹¹","V":30.8,"I":1.07e-5},{"series":"1.7x10¹¹","V":31,"I":1.23e-5},{"series":"1.7x10¹¹","V":31.2,"I":1.38e-5},{"series":"1.7x10¹¹","V":31.4,"I":1.58e-5},{"series":"1.7x10¹¹","V":31.6,"I":1.78e-5},{"series":"1.7x10¹¹","V":31.8,"I":1.95e-5},{"series":"1.7x10¹¹","V":32,"I":2.14e-5},{"series":"1.7x10¹¹","V":32.2,"I":2.34e-5},{"series":"1.7x10¹¹","V":32.4,"I":2.57e-5},{"series":"1.7x10¹¹","V":32.6,"I":2.75e-5},{"series":"1.7x10¹¹","V":32.8,"I":2.95e-5},{"series":"1.7x10¹¹","V":33,"I":3.09e-5},{"series":"1.7x10¹¹","V":33.2,"I":3.24e-5},{"series":"1.7x10¹¹","V":33.4,"I":3.47e-5},{"series":"1.7x10¹¹","V":33.6,"I":3.72e-5}
  ]},
  "layer": [
    {
      "data": {"values": [{}]},
      "mark": {"type": "rect", "fillOpacity": 0, "stroke": "#990099", "strokeWidth": 5, "clip": false},
      "encoding": {
        "x": {"datum": 23.235, "type": "quantitative"},
        "x2": {"datum": 40.38},
        "y": {"datum": 2.79e-4, "type": "quantitative"},
        "y2": {"datum": 1.52e-11}
      }
    },
    {
      "data": {"values": [{}]},
      "mark": {"type": "rect", "fill": "#fd97fb", "clip": false},
      "encoding": {
        "x": {"datum": 28.191, "type": "quantitative"},
        "x2": {"datum": 36.659},
        "y": {"datum": 8.32e-11, "type": "quantitative"},
        "y2": {"datum": 2.0e-11}
      }
    },
    {
      "mark": {"type": "line", "strokeWidth": 0.8, "opacity": 0.8},
      "encoding": {
        "x": {"field": "V", "type": "quantitative"},
        "y": {"field": "I", "type": "quantitative"},
        "color": {"field": "series", "type": "nominal"}
      }
    },
    {
      "mark": {"type": "point", "filled": true, "size": 28, "opacity": 1, "strokeWidth": 0},
      "encoding": {
        "x": {"field": "V", "type": "quantitative",
          "scale": {"domain": [24.5, 35.5], "nice": false, "zero": false},
          "axis": {"title": "Reverse bias (V)", "titleAnchor": "end", "titlePadding": 2,
            "values": [25,25.5,26,26.5,27,27.5,28,28.5,29,29.5,30,30.5,31,31.5,32,32.5,33,33.5,34,34.5,35],
            "labelExpr": "datum.value % 2 == 0 ? '' + datum.value : ''",
            "tickSize": {"condition": {"test": "datum.value % 2 == 0", "value": -9}, "value": -5},
            "labelPadding": 14}},
        "y": {"field": "I", "type": "quantitative",
          "scale": {"type": "log", "domain": [3.31e-10, 6.61e-5], "nice": false},
          "axis": {"title": "I(A)", "titleAnchor": "end", "titlePadding": 3,
            "values": [4e-10,5e-10,6e-10,7e-10,8e-10,9e-10,1e-9,2e-9,3e-9,4e-9,5e-9,6e-9,7e-9,8e-9,9e-9,1e-8,2e-8,3e-8,4e-8,5e-8,6e-8,7e-8,8e-8,9e-8,1e-7,2e-7,3e-7,4e-7,5e-7,6e-7,7e-7,8e-7,9e-7,1e-6,2e-6,3e-6,4e-6,5e-6,6e-6,7e-6,8e-6,9e-6,1e-5,2e-5,3e-5,4e-5,5e-5,6e-5],
            "labelExpr": "datum.value == 1e-9 ? '10⁻⁹' : datum.value == 1e-8 ? '10⁻⁸' : datum.value == 1e-7 ? '10⁻⁷' : datum.value == 1e-6 ? '10⁻⁶' : datum.value == 1e-5 ? '10⁻⁵' : ''",
            "tickSize": {"condition": {"test": "datum.value == 1e-9 || datum.value == 1e-8 || datum.value == 1e-7 || datum.value == 1e-6 || datum.value == 1e-5", "value": -14}, "value": -7},
            "labelPadding": 16}},
        "color": {"field": "series", "type": "nominal",
          "scale": {"domain": ["zero","1.8x10⁸","4.5x10⁸","1.8x10⁹","2.7x10⁹","5.4x10⁹","1.1x10¹⁰","2.2x10¹⁰","4.3x10¹⁰","8.7x10¹⁰","1.7x10¹¹"],
                    "range": ["#ff0000","#00e000","#0000ff","#ff00ff","#00e8f0","#9933ee","#ffa830","#3a3a3a","#cd5c5c","#2ee0b8","#8ea3dd"]},
          "legend": {"orient": "none", "legendX": 15, "legendY": 10, "title": "1 MeV eq-n/cm²", "titleFont": "Liberation Sans", "titleFontSize": 8, "titleFontWeight": "normal", "titleColor": "#444444", "titlePadding": 4, "labelFont": "Liberation Sans", "labelFontSize": 8.5, "labelColor": "#444444", "symbolSize": 28, "symbolOffset": 10, "labelOffset": 12, "rowPadding": 3.5, "symbolStrokeWidth": 0}},
        "shape": {"field": "series", "type": "nominal",
          "scale": {"domain": ["zero","1.8x10⁸","4.5x10⁸","1.8x10⁹","2.7x10⁹","5.4x10⁹","1.1x10¹⁰","2.2x10¹⁰","4.3x10¹⁰","8.7x10¹⁰","1.7x10¹¹"],
                    "range": ["circle","triangle-down","triangle-up","triangle-right","cross","triangle-left","diamond","circle","square","triangle-up","triangle-down"]},
          "legend": {"orient": "none", "legendX": 15, "legendY": 10, "title": "1 MeV eq-n/cm²", "titleFont": "Liberation Sans", "titleFontSize": 8, "titleFontWeight": "normal", "titleColor": "#444444", "titlePadding": 4, "labelFont": "Liberation Sans", "labelFontSize": 8.5, "labelColor": "#444444", "symbolSize": 28, "symbolOffset": 10, "labelOffset": 12, "rowPadding": 3.5, "symbolStrokeWidth": 0}}
      }
    },
    {
      "data": {"values": [{}]},
      "mark": {"type": "text", "text": "FBK HD-RGB 1x1mm² 12μm cell size", "font": "Liberation Sans", "fontSize": 17.5, "color": "#555555", "align": "center", "baseline": "alphabetic"},
      "encoding": {"x": {"datum": 30.0, "type": "quantitative"}, "y": {"datum": 1.24e-4, "type": "quantitative"}}
    },
    {
      "data": {"values": [{}]},
      "mark": {"type": "text", "text": "I-V curves", "font": "Open Sans", "fontSize": 41, "color": "#990099", "align": "center", "baseline": "middle"},
      "encoding": {"x": {"datum": 32.05, "type": "quantitative"}, "y": {"datum": 2.04e-9, "type": "quantitative"}}
    },
    {
      "data": {"values": [{}]},
      "mark": {"type": "text", "text": "SiPM", "font": "Open Sans", "fontSize": 52, "fontWeight": "bold", "color": "#990099", "align": "center", "baseline": "middle"},
      "encoding": {"x": {"datum": 37.94, "type": "quantitative"}, "y": {"datum": 1.6e-5, "type": "quantitative"}}
    },
    {
      "data": {"values": [{}]},
      "mark": {"type": "text", "text": ["Rad hardness", "test with n", "(≤10¹¹/cm²)", "@ CN-LNL"], "lineHeight": 36, "font": "DejaVu Sans", "fontSize": 28, "color": "#111111", "align": "center", "baseline": "middle"},
      "encoding": {"x": {"datum": 37.94, "type": "quantitative"}, "y": {"datum": 6.01e-7, "type": "quantitative"}}
    },
    {
      "data": {"values": [{}]},
      "mark": {"type": "text", "text": "JINST14 (2020) P02029", "font": "DejaVu Sans", "fontSize": 29, "color": "#111111", "align": "center", "baseline": "middle"},
      "encoding": {"x": {"datum": 32.425, "type": "quantitative"}, "y": {"datum": 4.08e-11, "type": "quantitative"}}
    }
  ]
}
